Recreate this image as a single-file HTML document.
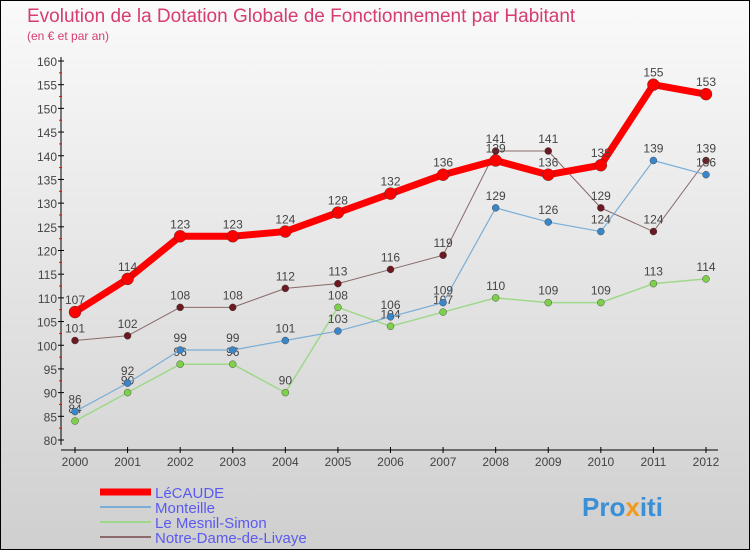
<!DOCTYPE html>
<html><head><meta charset="utf-8"><style>
body{margin:0;width:750px;height:550px;overflow:hidden;font-family:"Liberation Sans",sans-serif}
#c{position:absolute;left:0;top:0;width:748px;height:548px;border:1px solid #000;background:linear-gradient(#fafafa,#cfcfcf)}
</style></head><body>
<div id="c">
<svg id="s" width="750" height="550" style="position:absolute;left:-1px;top:-1px">
<text x="27" y="22" font-size="19" fill="#d63d6e">Evolution de la Dotation Globale de Fonctionnement par Habitant</text>
<text x="27" y="40" font-size="12" fill="#d63d6e">(en € et par an)</text>
<g id="axes"></g><g id="series"></g><g id="legend"></g>
<text x="582" y="516" font-size="26" font-weight="bold" fill="#3a8fd6">Pro<tspan fill="#f39a1e">x</tspan>iti</text>
</svg></div>
<script>
const years=[2000,2001,2002,2003,2004,2005,2006,2007,2008,2009,2010,2011,2012];
const yTicks=[80,85,90,95,100,105,110,115,120,125,130,135,140,145,150,155,160];
const lecaude=[107,114,123,123,124,128,132,136,139,136,138,155,153];
const monteille=[86,92,99,99,101,103,106,109,129,126,124,139,136];
const mesnil=[84,90,96,96,90,108,104,107,110,109,109,113,114];
const notreDame=[101,102,108,108,112,113,116,119,141,141,129,124,139];
const names=["LéCAUDE","Monteille","Le Mesnil-Simon","Notre-Dame-de-Livaye"];
const NS="http://www.w3.org/2000/svg";
const X=i=>75+i*(706-75)/(years.length-1);
const Y=v=>440-(v-80)*(440-61)/80;
function mk(t,a,p){const e=document.createElementNS(NS,t);for(const k in a)e.setAttribute(k,a[k]);p.appendChild(e);return e;}
const ax=document.getElementById('axes');
let l=mk('line',{x1:61,y1:57,x2:61,y2:445,stroke:'#000'},ax);


l=mk('line',{x1:61,y1:450,x2:718,y2:450,stroke:'#000'},ax);


yTicks.forEach(v=>{mk('line',{x1:58,y1:Y(v),x2:64,y2:Y(v),stroke:'#000'},ax);
 if(v<160)mk('line',{x1:59,y1:Y(v+2.5),x2:62,y2:Y(v+2.5),stroke:'#f00'},ax);
 const t=mk('text',{x:57,y:Y(v)+5,'text-anchor':'end','font-size':12,fill:'#444'},ax);t.textContent=v;
 
 });
years.forEach((yr,i)=>{mk('line',{x1:X(i),y1:447,x2:X(i),y2:453,stroke:'#000'},ax);
 const t=mk('text',{x:X(i),y:466,'text-anchor':'middle','font-size':12,fill:'#444'},ax);t.textContent=yr;
 
 });
const sg=document.getElementById('series');
const defs=[[notreDame,'#6b1a22','#8a6a6a',1,3.5,'series-notre-dame-de-livaye'],[mesnil,'#7ed04a','#9fd88a',1.5,3.5,'series-le-mesnil-simon'],[monteille,'#3a86c8','#7aaed6',1.2,3.5,'series-monteille'],[lecaude,'#f00','#f00',7,6,'series-lecaude']];
defs.forEach(([d,dot,line,w,r,n])=>{const g=mk('g',{},sg);
 
 
 mk('polyline',{points:d.map((v,i)=>X(i)+','+Y(v)).join(' '),fill:'none',stroke:line,'stroke-width':w,'stroke-linejoin':'round'},g);
 d.forEach((v,i)=>{const c=mk('circle',{cx:X(i),cy:Y(v),r:r,fill:dot,stroke:'#333','stroke-width':0.4},g);
  
  
  const t=mk('text',{x:X(i),y:Y(v)-8,'text-anchor':'middle','font-size':12,fill:'#444'},g);t.textContent=v;
  
  });});
const lg=document.getElementById('legend');
const lc=['#f00','#7aaed6','#9fd88a','#8a6a6a'],lw=[7,2,2,2];
names.forEach((n,i)=>{const y=492+i*15;
 const e=mk('line',{x1:100,y1:y,x2:151,y2:y,stroke:lc[i],'stroke-width':lw[i]},lg);
 
 
 const t=mk('text',{x:155,y:y+6,'font-size':15,fill:'#5a5af0'},lg);t.textContent=n;
 
 });
</script></body></html>
